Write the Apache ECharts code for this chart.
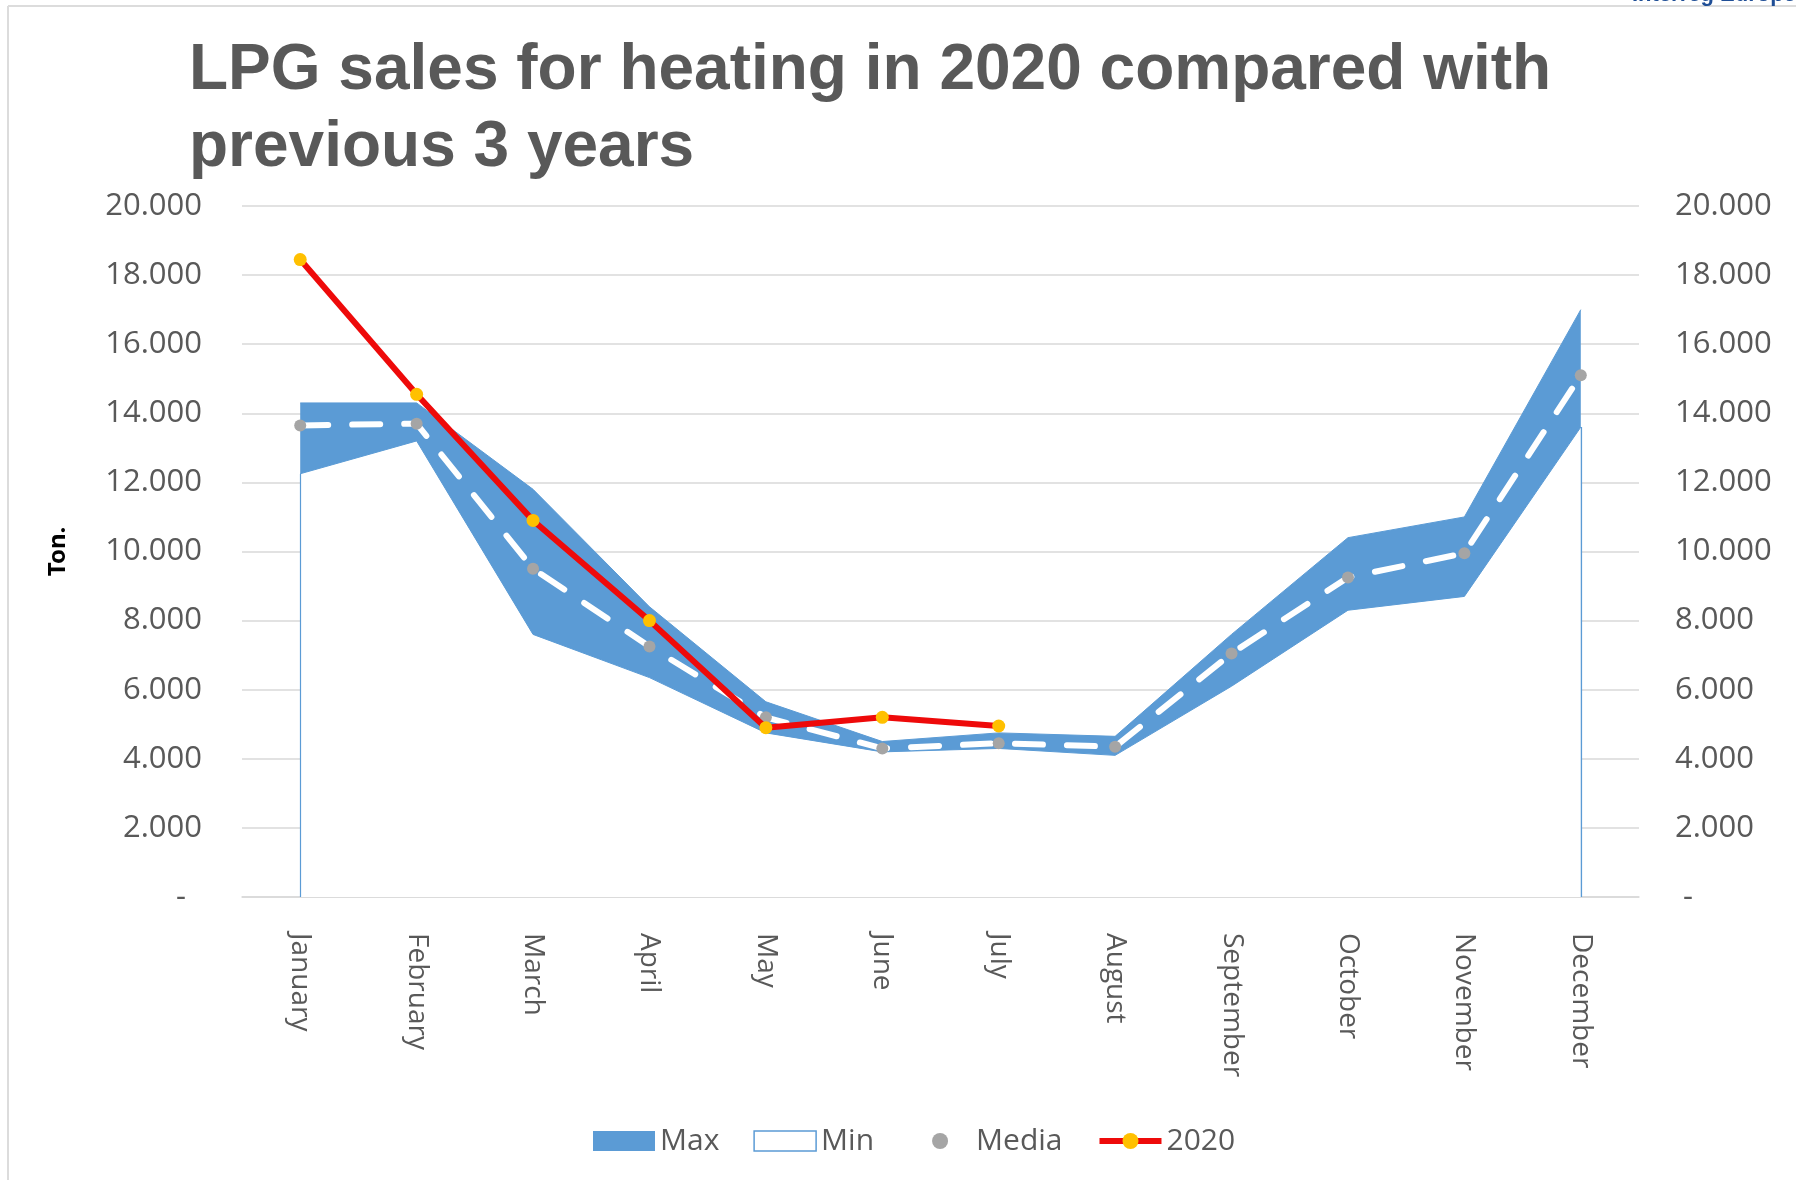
<!DOCTYPE html>
<html>
<head>
<meta charset="utf-8">
<title>LPG sales for heating</title>
<script src="https://cdn.jsdelivr.net/npm/echarts@6/dist/echarts.min.js"></script>
<style>
  html, body { margin: 0; padding: 0; background: #fff; }
  #chart { width: 1796px; height: 1180px; }
</style>
</head>
<body>
<div id="chart"></div>
<script>
// categories and values (tonnes)
var months = ['January', 'February', 'March', 'April', 'May', 'June',
    'July', 'August', 'September', 'October', 'November', 'December'];
var maxVals = [14300, 14300, 11800, 8400, 5650, 4500, 4750, 4650, 7600, 10400, 11000, 17000];
var minVals = [12250, 13200, 7600, 6350, 4750, 4200, 4300, 4100, 6100, 8300, 8700, 13600];
var mediaVals = [13650, 13700, 9500, 7250, 5200, 4300, 4450, 4350, 7050, 9250, 9950, 15100];
var sales2020 = [18450, 14550, 10900, 8000, 4900, 5200, 4950];
var yTicks = { min: 0, max: 20000, interval: 2000 };

var grey = '#595959';
var blue = '#5B9BD5';

function fmt(v) {
    return String(v).replace(/\B(?=(\d{3})+(?!\d))/g, '.');
}

var chart = echarts.init(document.getElementById('chart'));

chart.setOption({
    backgroundColor: '#fff',
    animation: false,
    textStyle: { fontFamily: '"Open Sans", sans-serif' },
    title: {
        text: 'LPG sales for heating in 2020 compared with\nprevious 3 years',
        left: 184,
        top: 28,
        textStyle: {
            fontFamily: '"Liberation Sans", Arial, sans-serif',
            fontSize: 64,
            fontWeight: 'bold',
            color: grey,
            lineHeight: 77
        }
    },
    graphic: [
        { type: 'line', shape: { x1: 8, y1: 6, x2: 1796, y2: 6 }, style: { stroke: '#DCDCDC', lineWidth: 2 } },
        { type: 'line', shape: { x1: 8, y1: 6, x2: 8, y2: 1180 }, style: { stroke: '#DCDCDC', lineWidth: 2 } },
        {
            type: 'text', left: 1632, top: -16,
            style: { text: 'Interreg Europe', font: 'bold 22px "Liberation Sans", sans-serif', fill: '#1F4E96' }
        }
    ],
    legend: {
        left: 588,
        top: 1121,
        itemWidth: 62,
        itemHeight: 20,
        itemGap: 34,
        textStyle: { fontSize: 30, color: grey },
        data: [
            { name: 'Max', icon: 'rect' },
            { name: 'Min', icon: 'rect', itemStyle: { color: '#fff', borderColor: blue, borderWidth: 1.5 } },
            { name: 'Media' },
            { name: '2020', lineStyle: { width: 6 } }
        ]
    },
    grid: { left: 242, right: 157, top: 206, bottom: 283 },
    xAxis: {
        type: 'category',
        data: months,
        boundaryGap: true,
        axisTick: { show: false },
        axisLine: { lineStyle: { color: '#D9D9D9', width: 1.5 } },
        axisLabel: { rotate: -90, margin: 36, fontSize: 28, color: grey }
    },
    yAxis: [{
        type: 'value',
        min: yTicks.min, max: yTicks.max, interval: yTicks.interval,
        name: 'Ton.',
        nameLocation: 'middle',
        nameRotate: 90,
        nameGap: 172,
        nameTextStyle: { fontSize: 24, fontWeight: 'bold', color: '#000', fontFamily: '"Noto Sans", sans-serif' },
        axisLabel: {
            fontSize: 31, color: grey, margin: 40,
            formatter: function (v) { return v === 0 ? '-  ' : fmt(v); }
        },
        splitLine: { lineStyle: { color: '#D9D9D9', width: 1.5 } }
    }, {
        type: 'value',
        min: yTicks.min, max: yTicks.max, interval: yTicks.interval,
        position: 'right',
        axisLabel: {
            fontSize: 31, color: grey, margin: 36,
            formatter: function (v) { return v === 0 ? ' -' : fmt(v); }
        },
        splitLine: { show: false }
    }],
    series: [{
        name: 'Max',
        type: 'line',
        data: maxVals,
        z: 1,
        showSymbol: false,
        itemStyle: { color: blue },
        lineStyle: { color: blue, width: 1 },
        areaStyle: { color: blue, opacity: 1 }
    }, {
        name: 'Min',
        type: 'line',
        data: minVals,
        z: 2,
        showSymbol: false,
        itemStyle: { color: blue },
        lineStyle: { color: blue, width: 1 },
        areaStyle: { color: '#fff', opacity: 1 },
        markLine: {
            silent: true,
            symbol: 'none',
            label: { show: false },
            lineStyle: { color: blue, width: 1.2, type: 'solid' },
            data: [
                [{ coord: [months[0], 0] }, { coord: [months[0], minVals[0]] }],
                [{ coord: [months[11], 0] }, { coord: [months[11], minVals[11]] }]
            ]
        }
    }, {
        name: 'Media',
        type: 'line',
        data: mediaVals,
        z: 3,
        symbol: 'circle',
        symbolSize: 12,
        itemStyle: { color: '#A5A5A5' },
        lineStyle: { color: '#fff', width: 6, type: [28, 24], cap: 'round' }
    }, {
        name: '2020',
        type: 'line',
        data: sales2020,
        z: 4,
        symbol: 'circle',
        symbolSize: 13,
        itemStyle: { color: '#FFC000' },
        lineStyle: { color: '#EE0A0A', width: 6 }
    }]
});
</script>
</body>
</html>
